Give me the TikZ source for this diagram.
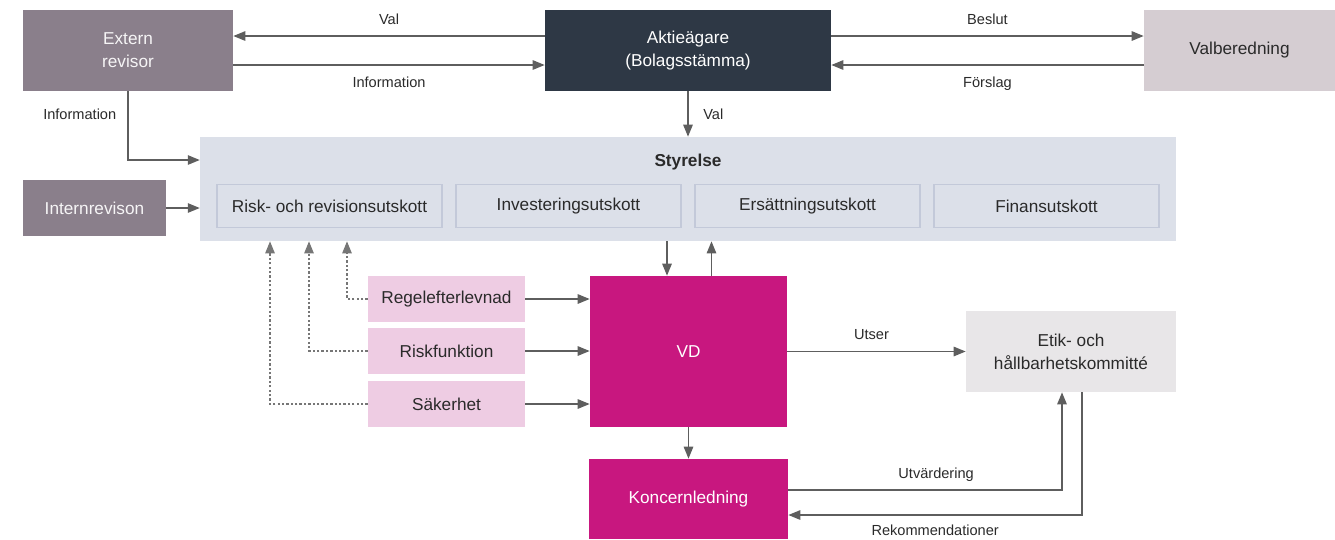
\documentclass[tikz,border=0pt]{standalone}
\usepackage{fontspec}
\setmainfont{Liberation Sans}
\usetikzlibrary{arrows.meta}
\definecolor{lin}{HTML}{5E5E5E}
\definecolor{txt}{HTML}{2A2A2A}
\definecolor{revc}{HTML}{8A7F8B}
\definecolor{navy}{HTML}{2E3845}
\definecolor{valc}{HTML}{D5CDD2}
\definecolor{styc}{HTML}{DCE0E9}
\definecolor{utc}{HTML}{C3C9D9}
\definecolor{pinkc}{HTML}{EECCE3}
\definecolor{magc}{HTML}{C8177F}
\definecolor{etikc}{HTML}{E8E6E8}
\tikzstyle{bx}=[rectangle,inner sep=2pt,align=center,font=\fontsize{9.8}{13}\selectfont]
\tikzstyle{rev}=[bx,fill=revc,text=white!92!revc]
\tikzstyle{ut}=[bx,draw=utc,fill=styc,line width=1pt,minimum width=4.5cm,minimum height=.86cm,text=txt]
\tikzstyle{fn}=[bx,fill=pinkc,minimum width=3.14cm,minimum height=.92cm,text=txt]
\tikzstyle{mg}=[bx,fill=magc,text=white]
\tikzstyle{arr}=[draw=lin,line width=.75pt,-{Triangle[length=.24cm,width=.19cm]}]
\tikzstyle{dsh}=[draw=lin!85,line width=.6pt,dash pattern=on 1.3pt off 1.2pt,-{Triangle[length=.24cm,width=.19cm]}]
\tikzstyle{lbl}=[font=\fontsize{8.3}{10}\selectfont,text=txt]

\begin{document}
\begin{tikzpicture}[x=0.02cm,y=-0.02cm]
\useasboundingbox (0,0) rectangle (1335,539);
% top row
\node[rev,minimum width=4.2cm,minimum height=1.62cm] (ext) at (128,50.5) {Extern\\revisor};
\node[bx,fill=navy,text=white,minimum width=5.72cm,minimum height=1.62cm] (aktie) at (688,50.5) {Aktieägare\\(Bolagsstämma)};
\node[bx,fill=valc,text=txt,minimum width=3.82cm,minimum height=1.62cm] (valb) at (1239.5,50.5) {Valberedning};
% styrelse
\node[bx,fill=styc,minimum width=19.52cm,minimum height=2.08cm] (styr) at (688,189) {};
\node[bx,text=txt,font=\fontsize{9.8}{13}\selectfont\bfseries] (styrtxt) at (688,162) {Styrelse};
\node[ut] (riskut) at (329.5,206) {Risk- och revisionsutskott};
\node[ut] (invut) at (568.5,206) {Investeringsutskott};
\node[ut] (ersut) at (807.5,206) {Ersättningsutskott};
\node[ut] (finut) at (1046.5,206) {Finansutskott};
\node[rev,minimum width=2.86cm,minimum height=1.12cm] (intrev) at (94.5,208) {Internrevison};
% funktioner
\node[fn] (regel) at (446.5,299) {Regelefterlevnad};
\node[fn] (riskf) at (446.5,351) {Riskfunktion};
\node[fn] (sak) at (446.5,404) {Säkerhet};
\node[mg,minimum width=3.94cm,minimum height=3.02cm] (vd) at (688.5,351.5) {VD};
\node[mg,minimum width=3.98cm,minimum height=1.6cm] (kon) at (688.5,499) {Koncernledning};
\node[bx,fill=etikc,text=txt,minimum width=4.2cm,minimum height=1.62cm] (etik) at (1071,351.5) {Etik- och\\hållbarhetskommitté};

% pilar
\draw[arr] ([yshift=.29cm]aktie.west) -- ([yshift=.29cm]ext.east) node[lbl,midway,above=3pt] {Val};
\draw[arr] ([yshift=-.29cm]ext.east) -- ([yshift=-.29cm]aktie.west) node[lbl,midway,below=3pt] {Information};
\draw[arr] ([yshift=.29cm]aktie.east) -- ([yshift=.29cm]valb.west) node[lbl,midway,above=3pt] {Beslut};
\draw[arr] ([yshift=-.29cm]valb.west) -- ([yshift=-.29cm]aktie.east) node[lbl,midway,below=3pt] {Förslag};
\draw[arr] (aktie.south) -- (aktie.south |- styr.north) node[lbl,midway,right=5pt] {Val};
\draw[arr] (ext.south) |- ([yshift=.58cm]styr.west) node[lbl,pos=.17,left=3pt] {Information};
\draw[arr] (intrev.east) -- (intrev.east -| styr.west);
\draw[arr] ([xshift=-.42cm]styr.south) -- ([xshift=-.42cm]styr.south |- vd.north);
\draw[arr] ([xshift=.46cm]vd.north) -- ([xshift=.46cm]vd.north |- styr.south);
\draw[arr] (regel.east) -- (regel.east -| vd.west);
\draw[arr] (riskf.east) -- (riskf.east -| vd.west);
\draw[arr] (sak.east) -- (sak.east -| vd.west);
\draw[dsh] (regel.west) -| ([xshift=.35cm]riskut.center |- styr.south);
\draw[dsh] (riskf.west) -| ([xshift=-.41cm]riskut.center |- styr.south);
\draw[dsh] (sak.west) -| ([xshift=-1.19cm]riskut.center |- styr.south);
\draw[arr] (vd.south) -- (kon.north);
\draw[arr] (vd.east) -- (etik.west) node[lbl,midway,above=3pt,xshift=-.1cm] {Utser};
\draw[arr] ([yshift=.18cm]kon.east) -| ([xshift=-.18cm]etik.south) node[lbl,pos=.27,above=1pt] {Utvärdering};
\draw[arr] ([xshift=.22cm]etik.south) |- ([yshift=-.32cm]kon.east) node[lbl,pos=.75,below=2pt] {Rekommendationer};
\end{tikzpicture}
\end{document}
